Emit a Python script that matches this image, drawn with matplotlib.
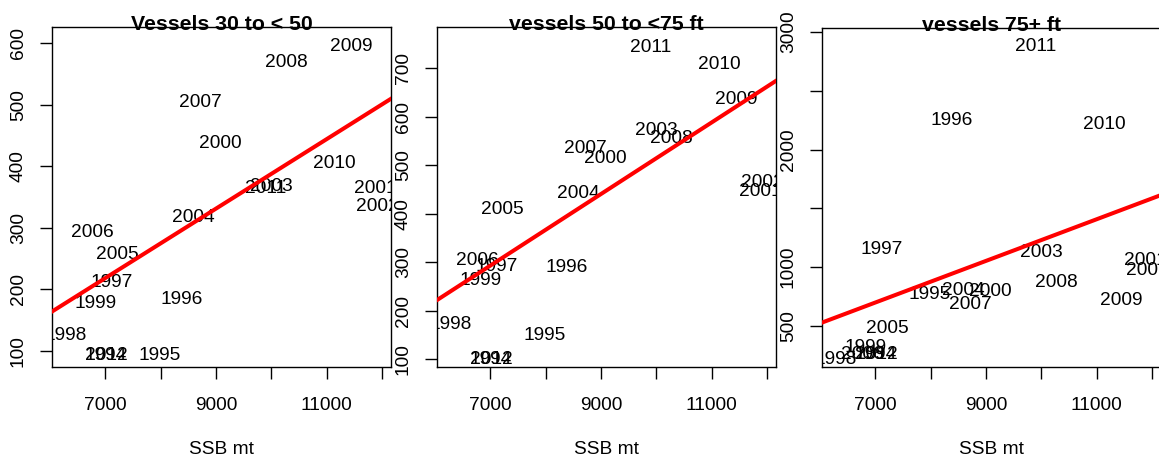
import matplotlib
matplotlib.use("Agg")
import matplotlib.pyplot as plt
from matplotlib.transforms import offset_copy

# ---- data ----
years = ['1994', '1995', '1996', '1997', '1998', '1999', '2000', '2001', '2002', '2003',
         '2004', '2005', '2006', '2007', '2008', '2009', '2010', '2011', '2012']
ssb = [6995, 7985, 8385, 7108, 6282, 6825, 9072, 11873, 11920, 10000,
       8590, 7205, 6767, 8725, 10270, 11448, 11132, 9890, 7010]
vessels_30_50 = [96, 96, 187, 215, 129, 181, 441, 367, 339, 371,
                 321, 260, 297, 508, 572, 598, 408, 368, 96]
vessels_50_75 = [104, 153, 295, 296, 177, 267, 519, 450, 469, 576,
                 447, 414, 308, 540, 559, 640, 712, 748, 104]
vessels_75 = [278, 789, 2267, 1173, 238, 340, 810, 1079, 989, 1145,
              818, 500, 278, 704, 889, 738, 2230, 2898, 278]

titles = ['Vessels 30 to < 50', 'vessels 50 to <75 ft', 'vessels 75+ ft']
series = [vessels_30_50, vessels_50_75, vessels_75]
# regression line (intercept, slope)
fit_intercept = [-176.0, -222.9, -540.0]
fit_slope = [0.05636, 0.07374, 0.177]

x_ticks = [7000, 8000, 9000, 10000, 11000, 12000]
x_ticklabels = ['7000', '', '9000', '', '11000', '']
y_ticks = [[100, 200, 300, 400, 500, 600],
           [100, 200, 300, 400, 500, 600, 700],
           [500, 1000, 1500, 2000, 2500, 3000]]
y_ticklabels = [['100', '200', '300', '400', '500', '600'],
                ['100', '200', '300', '400', '500', '600', '700'],
                ['500', '1000', '', '2000', '', '3000']]
xlims = (6033, 12163)
ylims = [(74, 626), (84, 785), (150, 3034)]

# ---- layout ----
W, H = 1159, 462
plt.rcParams['font.family'] = ['Liberation Sans', 'DejaVu Sans']
fig = plt.figure(figsize=(W / 100, H / 100), dpi=100)
fs = 13.8
lefts = [52, 437, 822]
tops = [27, 27, 28]
bottom_px = 367
width_px = 339

for i in range(3):
    ax = fig.add_axes([lefts[i] / W, (H - bottom_px) / H, width_px / W,
                       (bottom_px - tops[i]) / H])
    ax.set_xlim(*xlims)
    ax.set_ylim(*ylims[i])
    for s in ax.spines.values():
        s.set_linewidth(1.0)
        s.set_color('black')
    ax.set_xticks(x_ticks)
    ax.set_xticklabels(x_ticklabels)
    ax.set_yticks(y_ticks[i])
    ax.set_yticklabels(y_ticklabels[i])
    ax.tick_params(axis='both', direction='out', length=8.5, width=1.0,
                   labelsize=fs, colors='black')
    ax.tick_params(axis='x', pad=13)
    ax.tick_params(axis='y', pad=9.6, labelrotation=90)
    for lab in ax.get_yticklabels():
        lab.set_va('center')

    # year labels, centred on the glyphs
    tr = offset_copy(ax.transData, fig=fig, x=0, y=-0.716 * fs / 2, units='points')
    for yr, xv, yv in zip(years, ssb, series[i]):
        ax.text(xv, yv, yr, transform=tr, ha='center', va='baseline',
                fontsize=fs, color='black', clip_on=True)

    ax.axline((0, fit_intercept[i]), slope=fit_slope[i], color='red', lw=2.9,
              zorder=3)

    # title sitting on the top border
    ax.text(0.5, 1.0, titles[i],
            transform=offset_copy(ax.transAxes, fig=fig, x=0, y=-2, units='points'),
            ha='center', va='baseline', fontsize=15.3, fontweight='bold',
            clip_on=False, zorder=0.5)

    cx = (lefts[i] + width_px / 2) / W
    fig.text(cx, 1 - 450 / H, 'SSB mt', ha='center', va='center', fontsize=fs)

fig.savefig('out.png', dpi=100)
